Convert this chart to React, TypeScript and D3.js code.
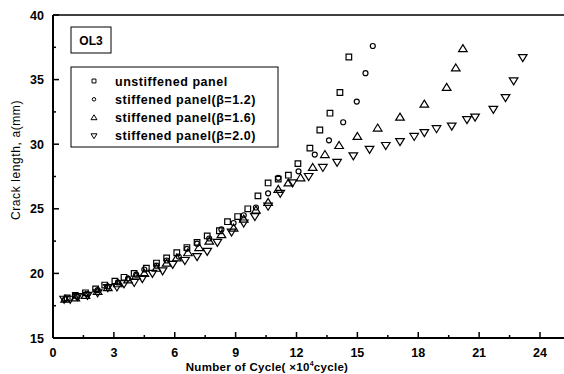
import React, { useEffect, useRef } from "react";
import * as d3 from "d3";

const W = 564;
const H = 374;

const xTicks = [0, 3, 6, 9, 12, 15, 18, 21, 24];
const yTicks = [15, 20, 25, 30, 35, 40];

const unstiffened: [number, number][] = [
  [0.7, 18.1], [1.1, 18.3], [1.6, 18.5], [2.1, 18.8], [2.55, 19.1], [3.05, 19.4],
  [3.5, 19.7], [4.0, 20.0], [4.6, 20.4], [5.1, 20.8], [5.6, 21.2], [6.1, 21.6],
  [6.6, 22.0], [7.1, 22.4], [7.6, 22.9], [8.2, 23.3], [8.6, 24.0], [9.1, 24.4],
  [9.6, 25.0], [10.1, 26.0], [10.6, 27.0], [11.1, 27.3], [11.6, 27.6], [12.07, 28.5],
  [12.66, 29.7], [13.15, 31.1], [13.65, 32.4], [14.14, 34.0], [14.58, 36.75],
];

const beta12: [number, number][] = [
  [0.6, 18.0], [1.2, 18.2], [1.7, 18.4], [2.2, 18.7], [2.7, 19.0], [3.2, 19.3],
  [3.7, 19.6], [4.1, 19.9], [4.5, 20.3], [5.1, 20.6], [5.6, 21.0], [6.2, 21.3],
  [6.6, 21.9], [7.1, 22.3], [7.7, 22.7], [8.3, 23.4], [8.9, 23.9], [9.4, 24.5],
  [10.0, 25.1], [10.6, 26.2], [11.1, 27.4], [12.1, 27.9], [12.9, 29.2], [13.6, 30.3],
  [14.3, 31.7], [14.97, 33.3], [15.4, 35.5], [15.76, 37.6],
];

const beta16: [number, number][] = [
  [0.6, 18.0], [1.1, 18.1], [1.6, 18.3], [2.2, 18.6], [2.7, 18.9], [3.2, 19.2],
  [3.7, 19.5], [4.1, 19.8], [4.5, 20.0], [5.1, 20.4], [5.6, 20.8], [6.1, 21.2],
  [6.65, 21.6], [7.2, 22.0], [7.7, 22.5], [8.3, 23.0], [8.9, 23.5], [9.4, 24.2],
  [10.0, 24.9], [10.6, 25.5], [11.1, 26.5], [11.6, 27.0], [12.2, 27.4], [12.8, 28.2],
  [13.4, 29.2], [14.1, 29.9], [15.0, 30.6], [16.0, 31.25], [17.1, 32.1], [18.3, 33.1],
  [19.4, 34.4], [19.85, 35.9], [20.2, 37.4],
];

const beta20: [number, number][] = [
  [0.55, 18.0], [0.85, 18.0], [1.2, 18.2], [1.7, 18.3], [2.2, 18.5], [2.7, 18.9],
  [3.15, 18.95], [3.5, 19.2], [4.0, 19.3], [4.4, 19.6], [4.9, 20.0], [5.4, 20.2],
  [5.9, 20.7], [6.5, 21.0], [7.1, 21.3], [7.6, 21.7], [8.1, 22.4], [8.8, 23.2],
  [9.4, 23.9], [9.95, 24.4], [10.6, 25.2], [11.2, 26.2], [11.8, 27.0], [12.6, 27.5],
  [13.3, 28.2], [14.0, 28.6], [14.8, 29.1], [15.6, 29.6], [16.4, 29.9], [17.1, 30.2],
  [17.8, 30.6], [18.3, 30.9], [18.9, 31.2], [19.65, 31.4], [20.4, 31.9], [20.8, 32.1],
  [21.7, 32.7], [22.3, 33.6], [22.7, 34.9], [23.15, 36.7],
];

const legendLabels = [
  "unstiffened panel",
  "stiffened panel(\u03b2=1.2)",
  "stiffened panel(\u03b2=1.6)",
  "stiffened panel(\u03b2=2.0)",
];

const left = 53;
const top = 15;
const bottom = 338;
const x = d3.scaleLinear().domain([0, 24]).range([left, 540]);
const y = d3.scaleLinear().domain([15, 40]).range([bottom, top]);

type Kind = "square" | "circle" | "tri" | "itri";

function markerPath(kind: Kind, cx: number, cy: number, k = 1): string {
  if (kind === "square") {
    const s = 2.8 * k;
    return `M${cx - s},${cy - s}h${2 * s}v${2 * s}h${-2 * s}Z`;
  }
  if (kind === "circle") {
    const r = 2.5 * k;
    return `M${cx - r},${cy}a${r},${r} 0 1,0 ${2 * r},0a${r},${r} 0 1,0 ${-2 * r},0Z`;
  }
  if (kind === "tri") {
    return `M${cx},${cy - 4 * k}L${cx + 4.3 * k},${cy + 3 * k}L${cx - 4.3 * k},${cy + 3 * k}Z`;
  }
  return `M${cx},${cy + 4 * k}L${cx + 4.3 * k},${cy - 3 * k}L${cx - 4.3 * k},${cy - 3 * k}Z`;
}

const seriesList: { data: [number, number][]; kind: Kind }[] = [
  { data: unstiffened, kind: "square" },
  { data: beta12, kind: "circle" },
  { data: beta16, kind: "tri" },
  { data: beta20, kind: "itri" },
];

export default function App() {
  const ref = useRef<SVGSVGElement>(null);

  useEffect(() => {
    const svg = d3.select(ref.current);
    svg.selectAll("*").remove();
    const font = "'Liberation Sans', Arial, sans-serif";

    // frame lines
    svg.append("line").attr("x1", left).attr("x2", W).attr("y1", top).attr("y2", top)
      .attr("stroke", "#000").attr("stroke-width", 1.5);
    svg.append("line").attr("x1", left).attr("x2", left).attr("y1", top).attr("y2", bottom)
      .attr("stroke", "#000").attr("stroke-width", 2);
    svg.append("line").attr("x1", left).attr("x2", W).attr("y1", bottom).attr("y2", bottom)
      .attr("stroke", "#000").attr("stroke-width", 2);

    // x ticks
    const xMinor = d3.range(0, 25.5, 1.5);
    xMinor.forEach((v) => {
      const major = v % 3 === 0;
      svg.append("line").attr("x1", x(v)).attr("x2", x(v))
        .attr("y1", bottom).attr("y2", bottom - (major ? 6 : 3))
        .attr("stroke", "#000").attr("stroke-width", 1.5);
    });
    xTicks.forEach((v) => {
      svg.append("text").attr("x", x(v)).attr("y", 357).attr("text-anchor", "middle")
        .attr("font-family", font).attr("font-weight", "bold").attr("font-size", 12.5)
        .text(String(v));
    });

    // y ticks
    const yMinor = d3.range(15, 40.1, 2.5);
    yMinor.forEach((v) => {
      const major = v % 5 === 0;
      svg.append("line").attr("x1", left).attr("x2", left + (major ? 6 : 3))
        .attr("y1", y(v)).attr("y2", y(v))
        .attr("stroke", "#000").attr("stroke-width", 1.5);
    });
    yTicks.forEach((v) => {
      svg.append("text").attr("x", 44).attr("y", y(v) + 4.5).attr("text-anchor", "end")
        .attr("font-family", font).attr("font-weight", "bold").attr("font-size", 12.5)
        .text(String(v));
    });

    // axis titles
    const xt = svg.append("text").attr("x", 267).attr("y", 371).attr("text-anchor", "middle")
      .attr("font-family", font).attr("font-weight", "bold").attr("font-size", 11.5)
      .attr("letter-spacing", 0.3);
    xt.append("tspan").text("Number of Cycle( \u00d710");
    xt.append("tspan").attr("font-size", 7).attr("dy", -5).text("4");
    xt.append("tspan").attr("dy", 5).text("cycle)");

    svg.append("text")
      .attr("transform", `translate(20,160) rotate(-90)`)
      .attr("text-anchor", "middle")
      .attr("font-family", font).attr("font-size", 12).attr("letter-spacing", 0.6)
      .text("Crack length, a(mm)");

    // data markers
    seriesList.forEach((s) => {
      svg.append("g").selectAll("path").data(s.data).enter().append("path")
        .attr("d", (d) => markerPath(s.kind, x(d[0]), y(d[1])))
        .attr("fill", "none").attr("stroke", "#000").attr("stroke-width", 1.2);
    });

    // OL3 box
    svg.append("rect").attr("x", 71).attr("y", 27).attr("width", 40).attr("height", 26)
      .attr("fill", "#fff").attr("stroke", "#000").attr("stroke-width", 1);
    svg.append("text").attr("x", 91).attr("y", 44.5).attr("text-anchor", "middle")
      .attr("font-family", font).attr("font-weight", "bold").attr("font-size", 12)
      .text("OL3");

    // legend
    svg.append("rect").attr("x", 71).attr("y", 67).attr("width", 207).attr("height", 80)
      .attr("fill", "#fff").attr("stroke", "#000").attr("stroke-width", 1);
    const kinds: Kind[] = ["square", "circle", "tri", "itri"];
    legendLabels.forEach((lab, i) => {
      const cy = 81 + i * 18.3;
      svg.append("path").attr("d", markerPath(kinds[i], 94, cy, 0.7))
        .attr("fill", "none").attr("stroke", "#000").attr("stroke-width", 1);
      svg.append("text").attr("x", 115).attr("y", cy + 4.5)
        .attr("font-family", font).attr("font-weight", "bold").attr("font-size", 12.5)
        .attr("letter-spacing", 0.55)
        .text(lab);
    });
  }, []);

  return (
    <div style={{ position: "absolute", left: 0, top: 0, width: W, height: H, background: "#fff" }}>
      <svg ref={ref} width={W} height={H} />
    </div>
  );
}
